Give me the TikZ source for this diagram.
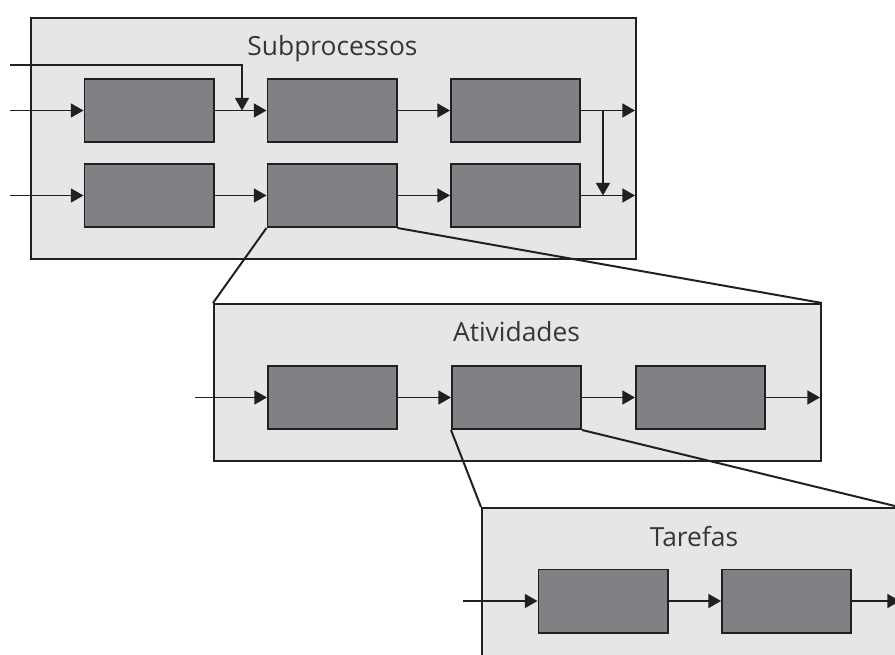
\documentclass[tikz,border=0pt]{standalone}
\usepackage{fontspec}
\setmainfont{Open Sans}
\usetikzlibrary{arrows.meta, positioning}

\definecolor{fundo}{HTML}{E6E6E6}
\definecolor{caixa}{HTML}{808184}
\definecolor{traco}{HTML}{231F20}

\tikzset{
  painel/.style  = {draw=traco, fill=fundo, line width=1.7pt, anchor=north west, inner sep=0pt},
  bloco/.style   = {draw=traco, fill=caixa, line width=1.7pt, inner sep=0pt,
                    minimum width=3.87cm, minimum height=1.89cm},
  seta/.style    = {draw=traco, line width=1.5pt, -{Triangle[length=0.38cm, width=0.42cm]}},
  ligacao/.style = {draw=traco, line width=1.7pt},
  titulo/.style  = {anchor=base, text=traco!90, font=\fontsize{22.5}{27}\selectfont},
}

\begin{document}
\begin{tikzpicture}[x=0.03cm, y=-0.03cm]

\clip (0,0) rectangle (895,655);

% subprocessos
\node [painel, minimum width=18.15cm, minimum height=7.23cm] (psub) at (30,17)  {};
\node [titulo] (tsub) at (332.5,56) {Subprocessos};
\node [bloco] (b11) at (149,110.5) {};
\node [bloco] (b12) at (332,110.5) {};
\node [bloco] (b13) at (515.5,110.5) {};
\node [bloco] (b21) at (149,195.5) {};
\node [bloco] (b22) at (332,195.5) {};
\node [bloco] (b23) at (515.5,195.5) {};

\coordinate (i0) at (10,65);
\coordinate (i1) at (10,110.5);
\coordinate (i2) at (10,195.5);
\coordinate (j1) at (242,110.5);
\coordinate (s1) at (603,110.5);
\coordinate (s2) at (603,195.5);
\coordinate (o1) at (635,110.5);
\coordinate (o2) at (635,195.5);

% atividades
\node [painel, minimum width=18.21cm, minimum height=4.71cm] (pati) at (213,303) {};
\node [titulo] (tati) at (516.5,342) {Atividades};
\node [bloco] (a1) at (332.5,397.5) {};
\node [bloco] (a2) at (516.5,397.5) {};
\node [bloco] (a3) at (700.5,397.5) {};

\coordinate (ia) at (195,397.5);
\coordinate (oa) at (820,397.5);

% tarefas
\node [painel, minimum width=12.48cm, minimum height=6cm] (ptar) at (481,507) {};
\node [titulo] (ttar) at (694,546) {Tarefas};
\node [bloco] (t1) at (603,601) {};
\node [bloco] (t2) at (786.5,601) {};

\coordinate (it) at (463,601);
\coordinate (ot) at (900,601);

\path [seta] (i0) -| (j1);
\path [seta] (i1) -- (b11);
\path [seta] (b11) -- (b12);
\path [seta] (b12) -- (b13);
\path [seta] (b13) -- (o1);
\path [seta] (i2) -- (b21);
\path [seta] (b21) -- (b22);
\path [seta] (b22) -- (b23);
\path [seta] (b23) -- (o2);
\path [seta] (s1) -- (s2);

\path [seta] (ia) -- (a1);
\path [seta] (a1) -- (a2);
\path [seta] (a2) -- (a3);
\path [seta] (a3) -- (oa);

\path [seta] (it) -- (t1);
\path [seta] (t1) -- (t2);
\path [seta] (t2) -- (ot);

\path [ligacao] (b22.south west) -- (pati.north west);
\path [ligacao] (b22.south east) -- (pati.north east);
\path [ligacao] (a2.south west)  -- (ptar.north west);
\path [ligacao] (a2.south east)  -- (ptar.north east);

\end{tikzpicture}
\end{document}
